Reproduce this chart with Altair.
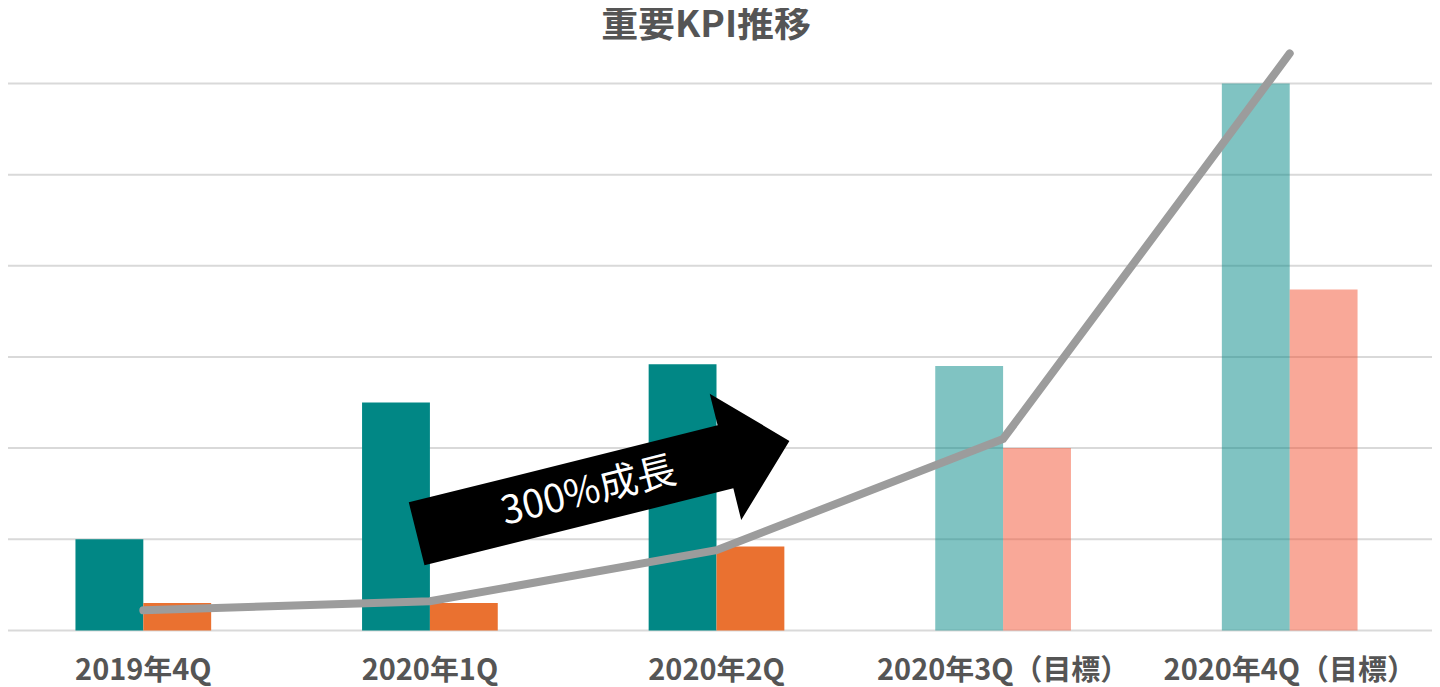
import altair as alt
import pandas as pd

categories = ["2019年4Q", "2020年1Q", "2020年2Q", "2020年3Q（目標）", "2020年4Q（目標）"]
kpi_main = [1.0, 2.5, 2.92, 2.9, 6.0]
kpi_sub = [0.3, 0.3, 0.92, 2.0, 3.74]
growth_line = [0.22, 0.32, 0.88, 2.10, 6.33]
is_target = [False, False, False, True, True]
grid_values = [0, 1, 2, 3, 4, 5, 6]
title_text = "重要KPI推移"
arrow_label = "300%成長"
arrow_center = [1.604, 1.569]   # (category index, value)
label_center = [1.554, 1.522]

# ---- tables built from the arrays ----
rows = []
for i, c in enumerate(categories):
    t = is_target[i]
    rows.append({"category": c, "series": "A", "value": kpi_main[i], "target": t,
                 "key": "A_t" if t else "A"})
    rows.append({"category": c, "series": "B", "value": kpi_sub[i], "target": t,
                 "key": "B_t" if t else "B"})
bars_df = pd.DataFrame(rows)
line_df = pd.DataFrame({"idx": list(range(len(categories))), "value": growth_line})
grid_df = pd.DataFrame({"g": grid_values})
arrow_df = pd.DataFrame({"x": [arrow_center[0]], "y": [arrow_center[1]]})
label_df = pd.DataFrame({"x": [label_center[0]], "y": [label_center[1]], "t": [arrow_label]})
title_df = pd.DataFrame({"t": [title_text]})

W, H = 1427, 623
y_scale = alt.Scale(domain=[0, 6.821], nice=False, zero=True)
band_scale = alt.Scale(domain=categories, range=[-8, 1428], paddingInner=0.5265, paddingOuter=0.26325)
idx_scale = alt.Scale(domain=[-0.5, 4.5], range=[-8, 1428], nice=False, zero=False)

font = "Noto Sans CJK JP"

grid = alt.Chart(grid_df).mark_rule(color="#D9D9D9", strokeWidth=2).encode(
    y=alt.Y("g:Q", scale=y_scale, axis=None),
    x=alt.value(0), x2=alt.value(W),
)

bars = alt.Chart(bars_df).mark_bar().encode(
    x=alt.X("category:N", sort=categories, scale=band_scale, title=None,
            axis=alt.Axis(domain=False, ticks=False, labelPadding=26, labelFont=font,
                          labelFontSize=29, labelFontWeight="bold", labelColor="#555555",
                          labelAngle=0, grid=False, labelLimit=500, labelOverlap=False)),
    xOffset=alt.XOffset("series:N", scale=alt.Scale(domain=["A", "B"], paddingInner=0, paddingOuter=0)),
    y=alt.Y("value:Q", scale=y_scale, axis=None),
    color=alt.Color("key:N", scale=alt.Scale(domain=["A", "B", "A_t", "B_t"],
                                             range=["#018785", "#EA7130", "#018785", "#F35131"]),
                    legend=None),
    opacity=alt.condition(alt.datum.target, alt.value(0.5), alt.value(1.0)),
)

line = alt.Chart(line_df).mark_line(color="#9C9C9C", strokeWidth=8, strokeCap="round").encode(
    x=alt.X("idx:Q", scale=idx_scale, axis=None),
    y=alt.Y("value:Q", scale=y_scale, axis=None),
)

arrow_path = "M-1,-0.169 L0.657,-0.169 L0.657,-0.339 L1,0 L0.657,0.339 L0.657,0.169 L-1,0.169 Z"
arrow = alt.Chart(arrow_df).mark_point(shape=arrow_path, filled=True, color="black", opacity=1,
                                       size=148225, angle=346, strokeWidth=0).encode(
    x=alt.X("x:Q", scale=idx_scale, axis=None),
    y=alt.Y("y:Q", scale=y_scale, axis=None),
)

arrow_text = alt.Chart(label_df).mark_text(color="white", font=font, fontSize=39, fontWeight="normal",
                                           angle=346, align="center", baseline="middle").encode(
    x=alt.X("x:Q", scale=idx_scale, axis=None),
    y=alt.Y("y:Q", scale=y_scale, axis=None),
    text="t:N",
)

title = alt.Chart(title_df).mark_text(color="#555555", font=font, fontSize=37, fontWeight="bold",
                                      align="center", baseline="middle").encode(
    x=alt.value(699.5), y=alt.value(17), text="t:N",
)

chart = alt.layer(grid, bars, line, arrow, arrow_text, title).resolve_scale(
    x="independent"
).properties(
    width=W, height=H,
    autosize=alt.AutoSizeParams(type="none"),
    padding={"left": 0, "top": 0, "right": 0, "bottom": 56},
    background="white",
).configure_view(stroke=None)

chart.save("out.html", embed_options={"renderer": "svg", "actions": False})
